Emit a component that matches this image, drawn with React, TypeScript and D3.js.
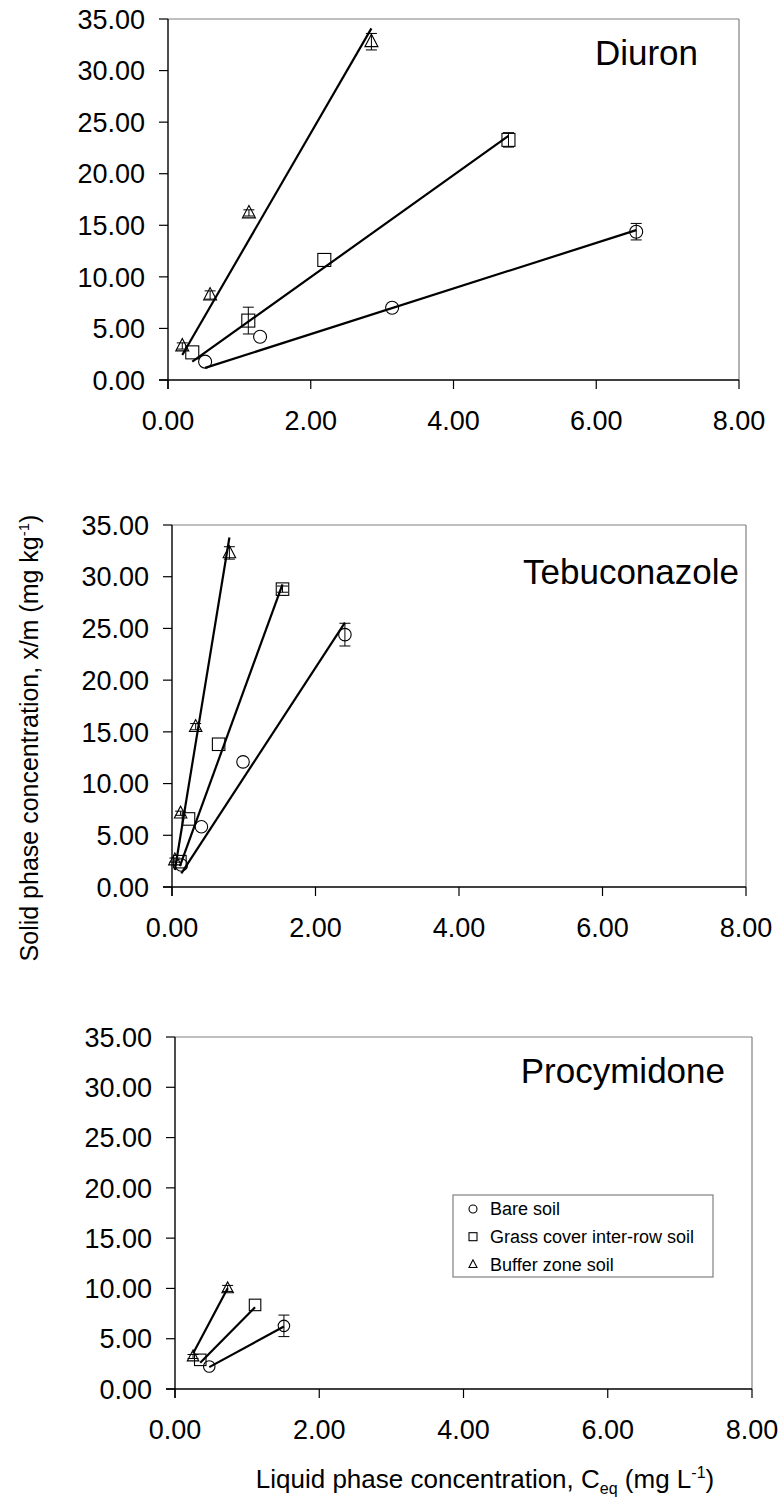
import React from "react";
import * as d3 from "d3";

const soils = ["Bare soil", "Grass cover inter-row soil", "Buffer zone soil"];
const symbolKinds = ["circle", "square", "triangle"];
const pesticides = ["Diuron", "Tebuconazole", "Procymidone"];
const xTicks = [0, 2, 4, 6, 8];
const yTicks = [0, 5, 10, 15, 20, 25, 30, 35];

// Diuron
const diuronBareX = [0.52, 1.29, 3.14, 6.56];
const diuronBareY = [1.78, 4.2, 7.01, 14.38];
const diuronBareErr = [0, 0, 0, 0.8];
const diuronGrassX = [0.34, 1.125, 2.19, 4.77];
const diuronGrassY = [2.68, 5.76, 11.64, 23.28];
const diuronGrassErr = [0, 1.3, 0, 0.7];
const diuronBufferX = [0.2, 0.59, 1.134, 2.85];
const diuronBufferY = [3.3, 8.24, 16.2, 32.8];
const diuronBufferErr = [0.3, 0.4, 0.3, 0.8];
const diuronSlope = [2.21, 4.94, 11.95];
const diuronIntercept = [0.03, 0.1, 0.03];

// Tebuconazole
const tebuBareX = [0.13, 0.41, 0.99, 2.41];
const tebuBareY = [2.13, 5.83, 12.1, 24.4];
const tebuBareErr = [0, 0, 0, 1.1];
const tebuGrassX = [0.11, 0.23, 0.65, 1.54];
const tebuGrassY = [2.45, 6.58, 13.8, 28.8];
const tebuGrassErr = [0, 0, 0, 0.3];
const tebuBufferX = [0.04, 0.12, 0.33, 0.8];
const tebuBufferY = [2.6, 7.13, 15.5, 32.3];
const tebuBufferErr = [0.2, 0.2, 0.3, 0.6];
const tebuSlope = [10.63, 19.05, 42.3];
const tebuIntercept = [-0.06, -0.07, -0.05];

// Procymidone
const procBareX = [0.475, 1.51];
const procBareY = [2.24, 6.28];
const procBareErr = [0, 1.07];
const procGrassX = [0.35, 1.11];
const procGrassY = [2.9, 8.36];
const procGrassErr = [0, 0];
const procBufferX = [0.25, 0.73];
const procBufferY = [3.23, 10.0];
const procBufferErr = [0.2, 0.3];
const procSlope = [3.9, 7.27, 13.5];
const procIntercept = [0.32, 0.06, 0.16];

const FONT = "'Liberation Sans', Arial, Helvetica, sans-serif";

type Series = { x: number[]; y: number[]; err: number[]; slope: number; intercept: number };

const panels: { name: string; series: Series[] }[] = [
  {
    name: pesticides[0],
    series: [
      { x: diuronBareX, y: diuronBareY, err: diuronBareErr, slope: diuronSlope[0], intercept: diuronIntercept[0] },
      { x: diuronGrassX, y: diuronGrassY, err: diuronGrassErr, slope: diuronSlope[1], intercept: diuronIntercept[1] },
      { x: diuronBufferX, y: diuronBufferY, err: diuronBufferErr, slope: diuronSlope[2], intercept: diuronIntercept[2] },
    ],
  },
  {
    name: pesticides[1],
    series: [
      { x: tebuBareX, y: tebuBareY, err: tebuBareErr, slope: tebuSlope[0], intercept: tebuIntercept[0] },
      { x: tebuGrassX, y: tebuGrassY, err: tebuGrassErr, slope: tebuSlope[1], intercept: tebuIntercept[1] },
      { x: tebuBufferX, y: tebuBufferY, err: tebuBufferErr, slope: tebuSlope[2], intercept: tebuIntercept[2] },
    ],
  },
  {
    name: pesticides[2],
    series: [
      { x: procBareX, y: procBareY, err: procBareErr, slope: procSlope[0], intercept: procIntercept[0] },
      { x: procGrassX, y: procGrassY, err: procGrassErr, slope: procSlope[1], intercept: procIntercept[1] },
      { x: procBufferX, y: procBufferY, err: procBufferErr, slope: procSlope[2], intercept: procIntercept[2] },
    ],
  },
];

const boxes = [
  { left: 168, right: 739, top: 19, bottom: 380, titleX: 698, titleY: 65, ms: 13 },
  { left: 172, right: 746, top: 525, bottom: 887, titleX: 739, titleY: 584, ms: 12.5 },
  { left: 175, right: 752, top: 1037, bottom: 1389, titleX: 725, titleY: 1083, ms: 11.5 },
];

function Marker({ kind, cx, cy, s }: { kind: string; cx: number; cy: number; s: number }) {
  const common = { fill: "none", stroke: "#000", strokeWidth: 1.1 };
  if (kind === "circle") return <circle cx={cx} cy={cy} r={s / 2} {...common} />;
  if (kind === "square") return <rect x={cx - s / 2} y={cy - s / 2} width={s} height={s} {...common} />;
  const h = s * 0.95;
  const pts = `${cx},${cy - h * 0.6} ${cx - s / 2},${cy + h * 0.4} ${cx + s / 2},${cy + h * 0.4}`;
  return <polygon points={pts} {...common} />;
}

function Panel({ idx }: { idx: number }) {
  const b = boxes[idx];
  const p = panels[idx];
  const x = d3.scaleLinear().domain([0, 8]).range([b.left, b.right]);
  const y = d3.scaleLinear().domain([0, 35]).range([b.bottom, b.top]);
  return (
    <g>
      <line x1={b.left} x2={b.right} y1={b.top} y2={b.top} stroke="#808080" strokeWidth={1.2} />
      <line x1={b.right} x2={b.right} y1={b.top} y2={b.bottom} stroke="#808080" strokeWidth={1.2} />
      <line x1={b.left} x2={b.left} y1={b.top} y2={b.bottom + 9} stroke="#000" strokeWidth={1.4} />
      {yTicks.map((t) => (
        <g key={"y" + t}>
          <line x1={b.left - 9} x2={b.left} y1={y(t)} y2={y(t)} stroke="#000" strokeWidth={1.2} />
          <text x={b.left - 23} y={y(t)} dy="0.36em" textAnchor="end" fontSize={27} fontFamily={FONT}>
            {t.toFixed(2)}
          </text>
        </g>
      ))}
      <line x1={b.left - 9} x2={b.right} y1={b.bottom} y2={b.bottom} stroke="#000" strokeWidth={1.4} />
      {xTicks.map((t) => (
        <g key={"x" + t}>
          <line x1={x(t)} x2={x(t)} y1={b.bottom} y2={b.bottom + 9} stroke="#000" strokeWidth={1.2} />
          <text x={x(t)} y={b.bottom + 40} dy="0.36em" textAnchor="middle" fontSize={27} fontFamily={FONT}>
            {t.toFixed(2)}
          </text>
        </g>
      ))}
      <text x={b.titleX} y={b.titleY} textAnchor="end" fontSize={35} fontFamily={FONT}>
        {p.name}
      </text>
      {p.series.map((s, si) => {
        const x0 = d3.min(s.x)!;
        const x1 = d3.max(s.x)!;
        const fit = (v: number) => s.slope * v + s.intercept;
        const fitLine = d3
          .line<number>()
          .x((d) => x(d))
          .y((d) => y(fit(d)));
        return (
          <g key={si}>
            {s.x.map((xv, i) => {
              const cx = x(xv);
              const cy = y(s.y[i]);
              const ylo = y(s.y[i] - s.err[i]);
              const yhi = y(s.y[i] + s.err[i]);
              return (
                <g key={i}>
                  {s.err[i] > 0 && (
                    <g stroke="#000" strokeWidth={1}>
                      <line x1={cx} x2={cx} y1={ylo} y2={yhi} />
                      <line x1={cx - 5.5} x2={cx + 5.5} y1={ylo} y2={ylo} />
                      <line x1={cx - 5.5} x2={cx + 5.5} y1={yhi} y2={yhi} />
                    </g>
                  )}
                  <Marker kind={symbolKinds[si]} cx={cx} cy={cy} s={b.ms} />
                </g>
              );
            })}
            <path d={fitLine([x0, x1]) || ""} fill="none" stroke="#000" strokeWidth={2.2} />
          </g>
        );
      })}
    </g>
  );
}

export default function App() {
  const legendX = 453;
  const legendY = 1195;
  return (
    <svg
      width={782}
      height={1504}
      viewBox="0 0 782 1504"
      style={{ position: "absolute", left: 0, top: 0, background: "#fff" }}
    >
      <rect x={0} y={0} width={782} height={1504} fill="#fff" />
      {panels.map((_, i) => (
        <Panel key={i} idx={i} />
      ))}
      <rect x={legendX} y={legendY} width={260} height={82} fill="#fff" stroke="#808080" strokeWidth={1.2} />
      {soils.map((s, i) => (
        <g key={s}>
          <Marker kind={symbolKinds[i]} cx={legendX + 20} cy={legendY + 14 + i * 27.7} s={8} />
          <text x={legendX + 37} y={legendY + 14 + i * 27.7} dy="0.36em" fontSize={18} fontFamily={FONT}>
            {s}
          </text>
        </g>
      ))}
      <text transform="translate(38,738) rotate(-90)" textAnchor="middle" fontSize={25} fontFamily={FONT}>
        Solid phase concentration, x/m (mg kg
        <tspan dy={-9} fontSize={15}>-1</tspan>
        <tspan dy={9}>)</tspan>
      </text>
      <text x={485} y={1488} textAnchor="middle" fontSize={26} fontFamily={FONT}>
        Liquid phase concentration, C
        <tspan dy={6} fontSize={16}>eq</tspan>
        <tspan dy={-6}> (mg L</tspan>
        <tspan dy={-10} fontSize={16}>-1</tspan>
        <tspan dy={10}>)</tspan>
      </text>
    </svg>
  );
}
